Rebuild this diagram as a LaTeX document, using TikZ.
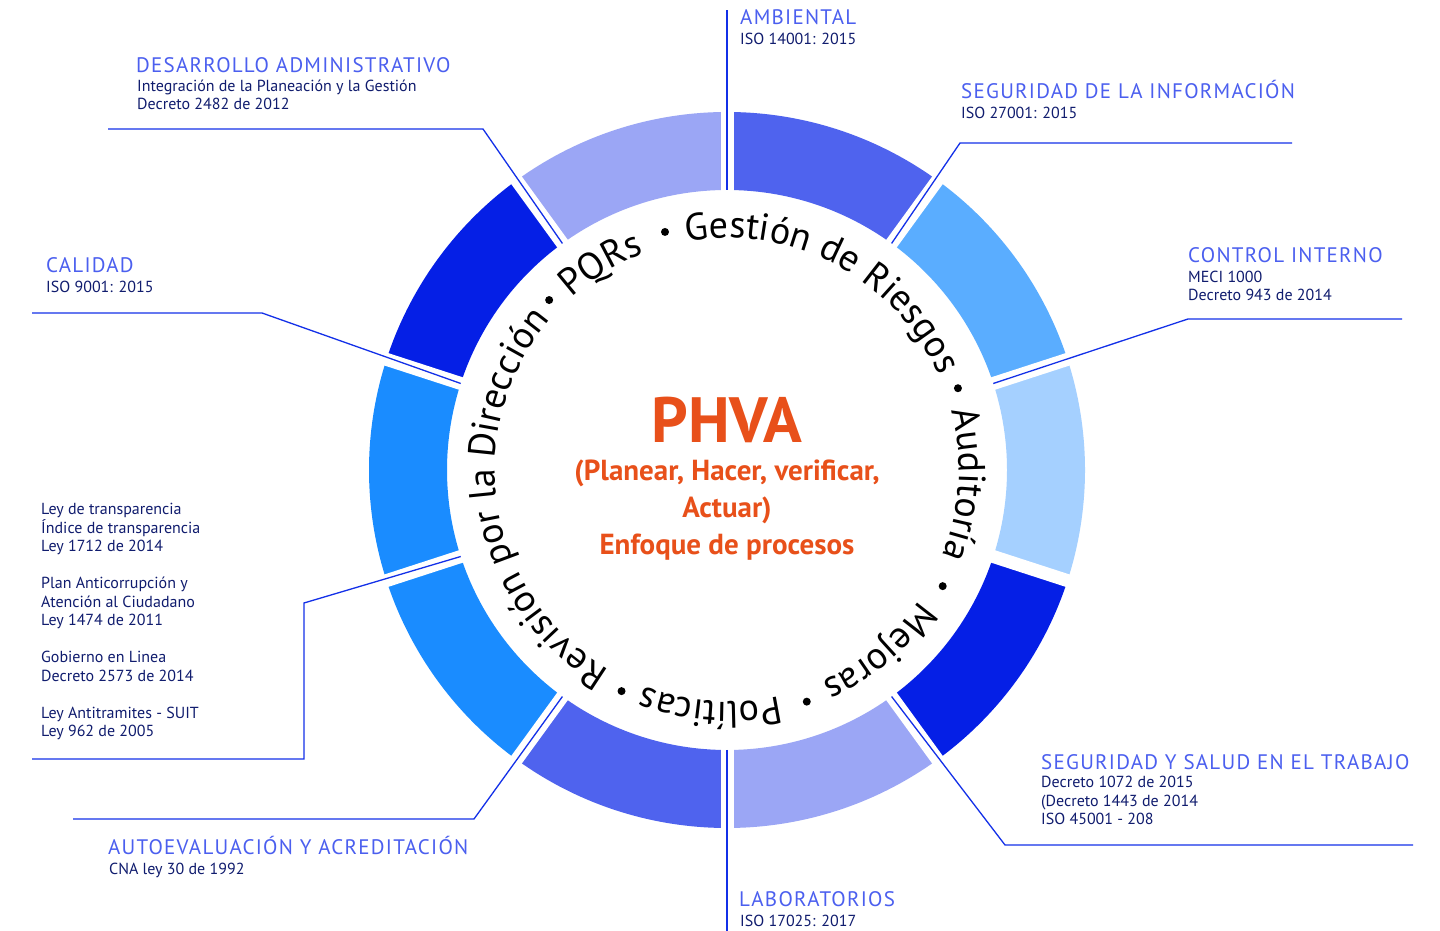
\documentclass[tikz,border=0pt]{standalone}
\usepackage{fontspec}
\setmainfont{PT Sans}
\newfontfamily\headfont[LetterSpace=6]{PT Sans}
\usetikzlibrary{calc,decorations.text}
\tikzset{>=stealth}
\usepackage{xcolor}
\definecolor{segMid}{HTML}{4F63EE}
\definecolor{segSky}{HTML}{5AADFF}
\definecolor{segPale}{HTML}{A5D0FF}
\definecolor{segDeep}{HTML}{051FE6}
\definecolor{segLav}{HTML}{9BA6F5}
\definecolor{segAzure}{HTML}{1A8CFF}
\definecolor{linkBlue}{HTML}{1330E8}
\definecolor{headBlue}{HTML}{4B5FEF}
\definecolor{subNavy}{HTML}{101C6E}
\definecolor{phvaOrange}{HTML}{E8501A}
\newcommand{\arcfont}{\fontsize{38}{40}\selectfont}

\begin{document}
\begin{tikzpicture}[x=1pt,y=1pt,
    seglink/.style={draw=linkBlue, line width=1.3pt},
    headtxt/.style={font=\headfont\fontsize{21}{24}\selectfont, text=headBlue, anchor=base west, inner sep=0pt},
    subtxt/.style={font=\fontsize{16}{18.5}\selectfont, text=subNavy, anchor=base west, align=left, inner sep=0pt},
    ringdot/.style={circle, fill=black, minimum size=8pt, inner sep=0pt},
    arctxt/.style={decorate, decoration={text along path, text align=center, text={|\arcfont|#1}}}]
        \def\rout{358}
        \def\rin{280}
        \def\rtxt{232}

        \useasboundingbox (0,0) rectangle (1440,931);
        \fill[white] (0,0) rectangle (1440,931);
        \coordinate (C) at (727,461);

        % ring
        \foreach \a/\col in {54/segMid, 18/segSky, -18/segPale, -54/segDeep, -90/segLav, -126/segMid, -162/segAzure, 162/segAzure, 126/segDeep, 90/segLav}
            \fill[\col] ($(C)+(\a:\rout)$) arc[start angle=\a, end angle=\a+36, radius=\rout] -- ($(C)+(\a+36:\rin)$) arc[start angle=\a+36, end angle=\a, radius=\rin] -- cycle;

        % gaps
        \foreach \g in {90,54,18,-18,-54,-90,-126,-162,162,126}
            \draw[white, line width=13pt] ($(C)+(\g:\rin-10)$) -- ($(C)+(\g:\rout+10)$);

        % connectors
        \coordinate (ambG) at ($(C)+(90:\rin)$);
        \coordinate (ambE) at (727,921);
        \coordinate (infoG) at ($(C)+(54:\rin)$);
        \coordinate (infoB) at (960,788);
        \coordinate (infoE) at (1292,788);
        \coordinate (ctrlG) at ($(C)+(18:\rin)$);
        \coordinate (ctrlB) at (1188,612);
        \coordinate (ctrlE) at (1402,612);
        \coordinate (saludG) at ($(C)+(-54:\rin)$);
        \coordinate (saludB) at (1005,86);
        \coordinate (saludE) at (1413,86);
        \coordinate (labG) at ($(C)+(-90:\rin)$);
        \coordinate (labE) at (727,0);
        \coordinate (autoG) at ($(C)+(-126:\rin)$);
        \coordinate (autoB) at (474,112);
        \coordinate (autoE) at (73,112);
        \coordinate (transG) at ($(C)+(-162:\rin)$);
        \coordinate (transB) at (304,328);
        \coordinate (transK) at (304,172);
        \coordinate (transE) at (32,172);
        \coordinate (calG) at ($(C)+(162:\rin)$);
        \coordinate (calB) at (262,618);
        \coordinate (calE) at (32,618);
        \coordinate (desaG) at ($(C)+(126:\rin)$);
        \coordinate (desaB) at (483,802);
        \coordinate (desaE) at (108,802);

        \draw[seglink] (ambG) -- (ambE);
        \draw[seglink] (infoG) -- (infoB) -- (infoE);
        \draw[seglink] (ctrlG) -- (ctrlB) -- (ctrlE);
        \draw[seglink] (saludG) -- (saludB) -- (saludE);
        \draw[seglink] (labG) -- (labE);
        \draw[seglink] (autoG) -- (autoB) -- (autoE);
        \draw[seglink] (transG) -- (transB) -- (transK) -- (transE);
        \draw[seglink] (calG) -- (calB) -- (calE);
        \draw[seglink] (desaG) -- (desaB) -- (desaE);

        %labels (sub texts sit on the baseline of their last line)
        \node (desaH) [headtxt] at (136,858) {DESARROLLO ADMINISTRATIVO};
        \node (desaT) [subtxt] at (137,821) {Integración de la Planeación y la Gestión\\Decreto 2482 de 2012};
        \node (ambH) [headtxt] at (740,906) {AMBIENTAL};
        \node (ambT) [subtxt] at (740,886) {ISO 14001: 2015};
        \node (infoH) [headtxt] at (961,832) {SEGURIDAD DE LA INFORMACIÓN};
        \node (infoT) [subtxt] at (961,812) {ISO 27001: 2015};
        \node (ctrlH) [headtxt] at (1188,668) {CONTROL INTERNO};
        \node (ctrlT) [subtxt] at (1188,630) {MECI 1000\\Decreto 943 de 2014};
        \node (calH) [headtxt] at (46,658) {CALIDAD};
        \node (calT) [subtxt] at (46,638) {ISO 9001: 2015};
        \node (transT) [subtxt] at (41,194) {Ley de transparencia\\Índice de transparencia\\Ley 1712 de 2014\\[18.5pt]Plan Anticorrupción y\\Atención al Ciudadano\\Ley 1474 de 2011\\[18.5pt]Gobierno en Linea\\Decreto 2573 de 2014\\[18.5pt]Ley Antitramites - SUIT\\Ley 962 de 2005};
        \node (saludH) [headtxt] at (1041,161) {SEGURIDAD Y SALUD EN EL TRABAJO};
        \node (saludT) [subtxt] at (1041,106) {Decreto 1072 de 2015\\(Decreto 1443 de 2014\\ISO 45001 - 208};
        \node (autoH) [headtxt] at (108,76) {AUTOEVALUACIÓN Y ACREDITACIÓN};
        \node (autoT) [subtxt] at (109,56) {CNA ley 30 de 1992};
        \node (labH) [headtxt] at (739,24) {LABORATORIOS};
        \node (labT) [subtxt] at (740,4) {ISO 17025: 2017};

        % text round the ring
        \path[arctxt={Gestión de Riesgos}] ($(C)+(122:\rtxt)$) arc[start angle=122, end angle=2, radius=\rtxt];
        \path[arctxt={Auditoría}] ($(C)+(26.5:\rtxt)$) arc[start angle=26.5, end angle=-33.5, radius=\rtxt];
        \path[arctxt={Mejoras}] ($(C)+(-25:\rtxt)$) arc[start angle=-25, end angle=-75, radius=\rtxt];
        \path[arctxt={Políticas}] ($(C)+(-69:\rtxt)$) arc[start angle=-69, end angle=-119, radius=\rtxt];
        \path[arctxt={Revisión por la Dirección}] ($(C)+(-105.5:\rtxt)$) arc[start angle=-105.5, end angle=-235.5, radius=\rtxt];
        \path[arctxt={PQRs}] ($(C)+(136.5:\rtxt)$) arc[start angle=136.5, end angle=106.5, radius=\rtxt];

        \node (d1) [ringdot] at ($(C)+(19.5:245)$) {};
        \node (d2) [ringdot] at ($(C)+(-28.3:245)$) {};
        \node (d3) [ringdot] at ($(C)+(-71:245)$) {};
        \node (d4) [ringdot] at ($(C)+(-115.5:245)$) {};
        \node (d5) [ringdot] at ($(C)+(136.3:246)$) {};
        \node (d6) [ringdot] at ($(C)+(104.6:246)$) {};

        % centre
        \node (phva) [font=\bfseries\fontsize{64}{64}\selectfont, text=phvaOrange, anchor=base] at (727,488) {PHVA};
        \node (ciclo) [font=\bfseries\fontsize{29}{37}\selectfont, text=phvaOrange, anchor=base, align=center] at (727,376) {(Planear, Hacer, verificar,\\Actuar)\\Enfoque de procesos};
\end{tikzpicture}
\end{document}
